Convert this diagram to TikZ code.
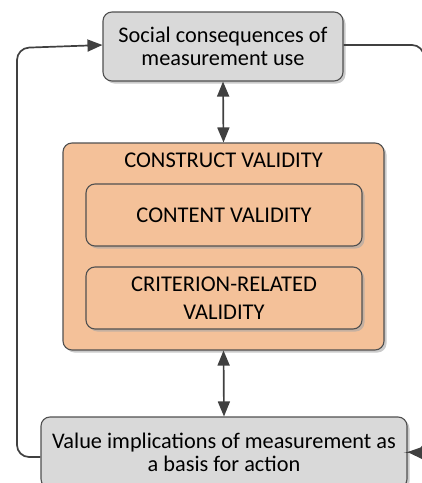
\documentclass[tikz,border=0pt]{standalone}
\usepackage{fontspec}
\setmainfont{Carlito}
\usetikzlibrary{arrows.meta,shadows}
\definecolor{boxgray}{RGB}{217,217,217}
\definecolor{peach}{RGB}{244,193,153}
\definecolor{edge}{RGB}{80,80,80}
\definecolor{wire}{RGB}{64,64,64}
\tikzset{
  shadowed/.style={drop shadow={shadow xshift=2.5pt,shadow yshift=-2.5pt,fill=black!35,opacity=0.6}},
  graybox/.style={draw=edge,line width=1.1pt,fill=boxgray,rounded corners=9pt,shadowed,
    align=center,inner sep=0pt,font=\fontsize{22.3}{23.5}\selectfont},
  outerbox/.style={draw=edge,line width=1.1pt,fill=peach,rounded corners=9pt,shadowed,inner sep=0pt},
  innerbox/.style={draw=edge,line width=1.1pt,fill=peach,rounded corners=9pt,shadowed,
    align=center,inner sep=0pt,font=\fontsize{22.5}{28}\selectfont},
  link/.style={draw=wire,line width=1.7pt,-{Triangle[length=15pt,width=12pt]}},
  twoway/.style={draw=wire,line width=1.7pt,
    {Triangle[length=15pt,width=12pt]}-{Triangle[length=15pt,width=12pt]}},
}
\begin{document}
\begin{tikzpicture}[x=1pt,y=-1pt]
\useasboundingbox (0,0) rectangle (422,483);
\clip (0,0) rectangle (422,483);
% boxes
\node[graybox,minimum width=240pt,minimum height=69pt] (social) at (223,46.5)
  {Social consequences of\\measurement use};
\node[outerbox,minimum width=321pt,minimum height=207pt] (construct) at (223.5,246.5) {};
\node[font=\fontsize{22.5}{24}\selectfont] (ctitle) at (223.5,160) {CONSTRUCT VALIDITY};
\node[innerbox,minimum width=276pt,minimum height=62pt] (content) at (224,215) {CONTENT VALIDITY};
\node[innerbox,minimum width=276pt,minimum height=62pt] (criterion) at (224,298)
  {CRITERION-RELATED\\VALIDITY};
\node[graybox,minimum width=366pt,minimum height=71pt] (value) at (224,452.5)
  {Value implications of measurement as\\a basis for action};
% connectors
\draw[twoway] (social.south) -- (construct.north);
\draw[twoway] (construct.south) -- (value.north);
\draw[link,rounded corners=12pt] ([yshift=-4.5pt]value.west) -| (17,48) -- ([yshift=1.5pt]social.west);
\draw[link,rounded corners=12pt] ([yshift=1.5pt]social.east) -| (424,453) -- ([yshift=0.5pt]value.east);
\end{tikzpicture}
\end{document}
